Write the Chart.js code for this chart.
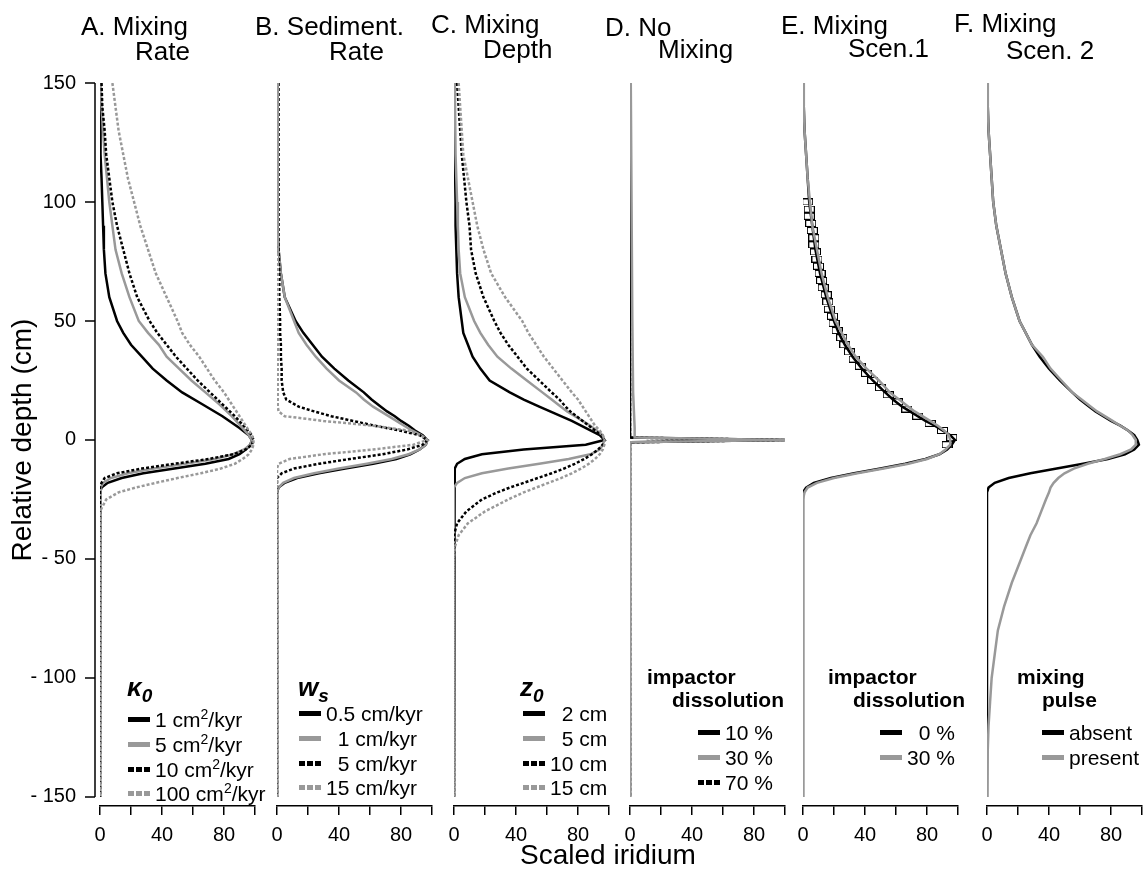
<!DOCTYPE html>
<html>
<head>
<meta charset="utf-8">
<script src="https://cdn.jsdelivr.net/npm/chart.js@4.4.1/dist/chart.umd.min.js"></script>
<style>
    body { margin: 0; width: 1144px; height: 871px; overflow: hidden; background: #fff; position: relative;
           font-family: "Liberation Sans", Arial, sans-serif; color: #000; }
    canvas { position: absolute; top: 0; }
    .t { position: absolute; font-size: 26px; line-height: 26px; white-space: pre; }
    .lg { position: absolute; font-size: 21px; line-height: 24px; white-space: pre; }
    .hd { position: absolute; font-size: 21px; line-height: 24px; font-weight: bold; white-space: pre; }
    .sym { position: absolute; font-size: 26px; line-height: 26px; font-weight: bold; font-style: italic; }
    .sym sub { font-size: 19px; vertical-align: -6px; }
    .sw { display: inline-block; width: 22px; height: 5px; vertical-align: middle; margin-right: 5px; position: relative; top: -2px; }
    .k { background: #000; }
    .g { background: #999; }
    .kd { background: repeating-linear-gradient(90deg, #000 0 6px, transparent 6px 8px); }
    .gd { background: repeating-linear-gradient(90deg, #999 0 6px, transparent 6px 8px); }
    .axt { position: absolute; font-size: 28px; line-height: 30px; white-space: pre; }
</style>
</head>
<body>
<canvas id="panelA" width="275" height="871" style="left:0px"></canvas>
<canvas id="panelB" width="195" height="871" style="left:257px"></canvas>
<canvas id="panelC" width="195" height="871" style="left:434px"></canvas>
<canvas id="panelD" width="195" height="871" style="left:610px"></canvas>
<canvas id="panelE" width="195" height="871" style="left:783px"></canvas>
<canvas id="panelF" width="195" height="871" style="left:967px"></canvas>

<!-- panel titles -->
<div class="t" style="left:81px;top:13px">A. Mixing</div>
<div class="t" style="left:135px;top:38px">Rate</div>
<div class="t" style="left:255px;top:13px">B. Sediment.</div>
<div class="t" style="left:329px;top:38px">Rate</div>
<div class="t" style="left:431px;top:11px">C. Mixing</div>
<div class="t" style="left:483px;top:36px">Depth</div>
<div class="t" style="left:605px;top:14px">D. No</div>
<div class="t" style="left:658px;top:36px">Mixing</div>
<div class="t" style="left:781px;top:12px">E. Mixing</div>
<div class="t" style="left:848px;top:35px">Scen.1</div>
<div class="t" style="left:954px;top:10px">F. Mixing</div>
<div class="t" style="left:1006px;top:37px">Scen. 2</div>

<!-- axis titles -->
<div class="axt" style="left:-108px;top:425px;width:260px;text-align:center;transform:rotate(-90deg)">Relative depth (cm)</div>
<div class="axt" style="left:478px;top:840px;width:260px;text-align:center">Scaled iridium</div>

<!-- legends -->
<div class="sym" style="left:127px;top:674px">κ<sub>0</sub></div>
<div class="lg" style="left:128px;top:702px"><span class="sw k"></span>1 cm<sup style="font-size:14px">2</sup>/kyr</div>
<div class="lg" style="left:128px;top:727px"><span class="sw g"></span>5 cm<sup style="font-size:14px">2</sup>/kyr</div>
<div class="lg" style="left:128px;top:752px"><span class="sw kd"></span>10 cm<sup style="font-size:14px">2</sup>/kyr</div>
<div class="lg" style="left:128px;top:776px"><span class="sw gd"></span>100 cm<sup style="font-size:14px">2</sup>/kyr</div>

<div class="sym" style="left:298px;top:674px">w<sub>s</sub></div>
<div class="lg" style="left:299px;top:702px"><span class="sw k"></span>0.5 cm/kyr</div>
<div class="lg" style="left:299px;top:727px"><span class="sw g"></span>  1 cm/kyr</div>
<div class="lg" style="left:299px;top:752px"><span class="sw kd"></span>  5 cm/kyr</div>
<div class="lg" style="left:299px;top:776px"><span class="sw gd"></span>15 cm/kyr</div>

<div class="sym" style="left:520px;top:674px">z<sub>0</sub></div>
<div class="lg" style="left:523px;top:702px"><span class="sw k"></span>  2 cm</div>
<div class="lg" style="left:523px;top:727px"><span class="sw g"></span>  5 cm</div>
<div class="lg" style="left:523px;top:752px"><span class="sw kd"></span>10 cm</div>
<div class="lg" style="left:523px;top:776px"><span class="sw gd"></span>15 cm</div>

<div class="hd" style="left:647px;top:665px">impactor</div>
<div class="hd" style="left:672px;top:688px">dissolution</div>
<div class="lg" style="left:698px;top:721px"><span class="sw k"></span>10 %</div>
<div class="lg" style="left:698px;top:746px"><span class="sw g"></span>30 %</div>
<div class="lg" style="left:698px;top:771px"><span class="sw kd"></span>70 %</div>

<div class="hd" style="left:828px;top:665px">impactor</div>
<div class="hd" style="left:853px;top:688px">dissolution</div>
<div class="lg" style="left:880px;top:721px"><span class="sw k"></span>  0 %</div>
<div class="lg" style="left:880px;top:746px"><span class="sw g"></span>30 %</div>

<div class="hd" style="left:1017px;top:665px">mixing</div>
<div class="hd" style="left:1042px;top:688px">pulse</div>
<div class="lg" style="left:1042px;top:721px"><span class="sw k"></span>absent</div>
<div class="lg" style="left:1042px;top:746px"><span class="sw g"></span>present</div>

<script>
// axis ticks
const xTicks = [0, 20, 40, 60, 80, 100];
const xTickLabels = [0, 40, 80];
const yTicks = [150, 100, 50, 0, -50, -100, -150];

// A. mixing rate (K0)
const depthA = [150, 140, 130, 120, 110, 100, 90, 80, 70, 60, 50, 45, 40, 35, 30, 25, 20, 15, 10, 5,
                2, 0, -2, -4, -6, -8, -10, -12, -14, -16, -18, -20, -22, -25, -30, -150];
const aK1   = [0, 0, 0.5, 0.5, 1, 1.5, 2, 2.5, 3.5, 6, 11, 15, 20, 27, 34, 43, 53, 66, 79, 90,
               96, 98, 97, 94, 90, 83, 68, 48, 28, 14, 5, 1, 0, 0, 0, 0];
const aK5   = [0.5, 1, 2, 3, 4.5, 6, 8, 10, 14, 19, 25, 31, 38, 43, 51, 59, 68, 77, 85, 92,
               96, 98, 97, 93, 86, 74, 55, 35, 18, 7, 2, 0.5, 0, 0, 0, 0];
const aK10  = [1, 1.5, 3, 4, 6, 8, 11, 15, 19, 24, 32, 37, 43, 49, 56, 63, 71, 79, 87, 94,
               98, 99, 98, 94, 86, 70, 48, 27, 11, 3, 1, 0, 0, 0, 0, 0];
const aK100 = [8, 10, 12, 15, 18, 22, 26, 31, 36, 43, 50, 53, 58, 64, 69, 74, 80, 85, 90, 95,
               98, 99, 99, 98, 96, 92, 87, 78, 65, 50, 36, 23, 12, 4, 0, 0];

// B. sedimentation rate (ws) and C. mixing depth (z0)
const depthBC = [150, 120, 100, 90, 80, 70, 60, 50, 45, 40, 35, 30, 25, 20, 17, 14, 12, 10, 8, 6,
                 4, 2, 0, -2, -4, -6, -8, -10, -12, -14, -16, -18, -20, -22, -25, -30, -35, -40, -45, -50, -150];
const bW05 = [0, 0, 0, 0.5, 1, 2.5, 5, 12, 17, 23, 29, 37, 46, 56, 61, 67, 71, 76, 80, 85,
              89, 94, 97, 96, 92, 86, 77, 62, 44, 27, 13, 5, 1, 0, 0, 0, 0, 0, 0, 0, 0];
const bW1  = [0, 0, 0, 0.5, 1, 2.5, 5, 11, 14, 19, 25, 32, 40, 51, 56, 62, 67, 72, 77, 82,
              87, 93, 97, 96, 92, 85, 74, 58, 40, 24, 11, 4, 1, 0, 0, 0, 0, 0, 0, 0, 0];
const bW5  = [1, 1, 1, 1, 1, 1.5, 1.5, 2, 2, 2.5, 2.5, 3, 3, 4, 6, 14, 24, 35, 49, 63,
              79, 92, 97, 94, 84, 68, 47, 27, 11, 3, 0, 0, 0, 0, 0, 0, 0, 0, 0, 0, 0];
const bW15 = [0.5, 0.5, 0.5, 0.5, 0.5, 0.5, 0.5, 0.5, 0.5, 0.5, 0.5, 0.5, 0.5, 0.5, 0.5, 0.5, 1, 5, 30, 62,
              84, 93, 97, 88, 62, 30, 8, 1, 0, 0, 0, 0, 0, 0, 0, 0, 0, 0, 0, 0, 0];
const cZ2  = [0, 0.5, 1, 1, 1.5, 2, 3, 5, 6, 9, 12, 17, 23, 36, 45, 55, 62, 69, 76, 82,
              88, 94, 97, 85, 45, 18, 7, 2, 0.5, 0, 0, 0, 0, 0, 0, 0, 0, 0, 0, 0, 0];
const cZ5  = [0.5, 1, 2, 2.5, 3, 4, 7, 13, 17, 22, 28, 37, 47, 57, 63, 69, 73, 78, 83, 88,
              92, 96, 97, 96, 94, 88, 74, 55, 35, 18, 7, 2, 0, 0, 0, 0, 0, 0, 0, 0, 0];
const cZ10 = [2, 5, 8, 10, 11, 14, 19, 26, 30, 35, 41, 47, 55, 63, 68, 72, 75, 79, 83, 87,
              91, 95, 97, 96, 93, 89, 84, 78, 71, 63, 54, 45, 36, 28, 18, 8, 2, 0, 0, 0, 0];
const cZ15 = [3, 6, 12, 15, 19, 24, 33, 44, 48, 53, 58, 64, 70, 76, 80, 83, 85, 87, 89, 91,
              94, 96, 97, 97, 96, 94, 91, 87, 82, 76, 69, 61, 53, 45, 35, 20, 9, 3, 0.5, 0, 0];

// D. no mixing
const depthD = [150, 100, 50, 20, 5, 2, 1, 0, -1, -150];
const dNo10 = [0, 0, 0, 0, 0, 0, 0, 100, 0, 0];
const dNo30 = [0.5, 1, 1.5, 2, 3, 3, 3, 100, 0, 0];
const dNo70 = [0, 0, 0, 0, 0, 0, 0, 100, 0, 0];

// E. / F. mixing scenarios
const depthEF = [150, 140, 130, 120, 110, 100, 90, 80, 70, 60, 50, 45, 40, 35, 30, 25, 20, 17, 14, 12,
                 10, 8, 6, 4, 2, 0, -2, -4, -6, -8, -10, -12, -14, -16, -18, -20, -22, -25, -30, -35,
                 -40, -45, -50, -60, -70, -80, -90, -100, -110, -120, -130, -140, -150];
const eDiss0  = [0, 0.5, 1, 2, 3, 4, 6, 8, 11, 15, 20, 23, 27, 32, 38, 45, 53, 58, 64, 69,
                 74, 79, 85, 90, 95, 98, 96, 93, 88, 79, 66, 50, 33, 18, 7, 2, 0, 0, 0, 0,
                 0, 0, 0, 0, 0, 0, 0, 0, 0, 0, 0, 0, 0];
const eDiss30 = [0, 0.5, 1, 2, 3, 4.5, 6, 9, 12, 16, 21, 25, 29, 34, 41, 49, 56, 62, 68, 72,
                 77, 82, 87, 91, 94, 95, 95, 92, 88, 80, 68, 52, 35, 20, 9, 3, 1, 0, 0, 0,
                 0, 0, 0, 0, 0, 0, 0, 0, 0, 0, 0, 0, 0];
const fAbsent  = [0, 0.5, 1, 2, 3, 4, 6, 9, 12, 16, 21, 25, 29, 34, 40, 47, 55, 60, 66, 70,
                  75, 80, 86, 91, 95, 97, 98, 95, 89, 78, 62, 45, 28, 14, 5, 1, 0, 0, 0, 0,
                  0, 0, 0, 0, 0, 0, 0, 0, 0, 0, 0, 0, 0];
const fPresent = [0, 0.5, 1, 2, 3, 4, 6, 9, 12, 16, 21, 25, 29, 36, 41, 48, 55, 61, 67, 71,
                  76, 81, 86, 91, 94, 96, 96, 93, 86, 76, 65, 56, 50, 46, 43, 41, 40, 38, 35, 32,
                  28, 25, 22, 16, 11, 7, 5, 3, 2, 1, 0.5, 0.3, 0];
// measured samples in E (open boxes)
const eBoxDepth = [100, 97, 94, 91, 88, 85, 82, 79, 76, 73, 70, 67, 64, 61, 58, 55, 52, 49, 46, 43,
                   40, 37, 34, 31, 28, 25, 22, 19, 16, 13, 10, 7, 4, 1, -2];
const eBoxValue = [3, 4, 4, 5, 6, 7, 7, 8, 9, 10, 11, 12, 13, 15, 16, 17, 19, 20, 22, 25,
                   27, 30, 33, 37, 41, 45, 50, 55, 61, 67, 74, 82, 90, 96, 93];

const BLACK = '#000000';
const GREY = '#999999';
const DOTS = [3, 2];
// bottom of the plotting box sits a little below -150 (detached x axis)
const Y_MIN = -153.8;

function pts(depths, vals) {
    return depths.map((d, i) => ({ x: vals[i], y: d }));
}

function curve(depths, vals, color, dotted) {
    return {
        data: pts(depths, vals),
        showLine: true,
        borderColor: color,
        borderWidth: 2.5,
        borderDash: dotted ? DOTS : [],
        pointRadius: 0,
        fill: false
    };
}

// y axis of panel A drawn a few px left of the x = 0 line
const yAxisLine = {
    id: 'yAxisLine',
    afterDraw(chart) {
        const ctx = chart.ctx;
        const ys = chart.scales.y;
        const x = chart.chartArea.left - 5;
        ctx.save();
        ctx.strokeStyle = BLACK;
        ctx.lineWidth = 1.5;
        ctx.beginPath();
        ctx.moveTo(x, ys.getPixelForValue(150));
        ctx.lineTo(x, ys.getPixelForValue(-150));
        yTicks.forEach(v => {
            const p = ys.getPixelForValue(v);
            ctx.moveTo(x - 10, p);
            ctx.lineTo(x, p);
        });
        ctx.stroke();
        ctx.restore();
    }
};

function makePanel(id, datasets, showY) {
    const font = { family: '"Liberation Sans", Arial, sans-serif', size: 20 };
    return new Chart(document.getElementById(id), {
        type: 'scatter',
        data: { datasets },
        options: {
            responsive: false,
            animation: false,
            devicePixelRatio: 1,
            layout: { padding: { top: 83, bottom: 0, left: showY ? 0 : 20, right: 20 } },
            plugins: { legend: { display: false }, tooltip: { enabled: false } },
            scales: {
                x: {
                    type: 'linear', min: 0, max: 100,
                    afterBuildTicks: s => { s.ticks = xTicks.map(v => ({ value: v })); },
                    afterFit: s => { s.height = 65; },
                    grid: { drawOnChartArea: false, drawTicks: true, tickLength: 9, color: BLACK, lineWidth: 1.5 },
                    border: { display: true, color: BLACK, width: 1.5 },
                    ticks: {
                        autoSkip: false, maxRotation: 0, padding: 8, color: BLACK, font,
                        callback: v => xTickLabels.includes(v) ? String(v) : ''
                    }
                },
                y: {
                    type: 'linear', min: Y_MIN, max: 150, display: showY,
                    afterBuildTicks: s => { s.ticks = yTicks.map(v => ({ value: v })); },
                    afterFit: s => { s.width = showY ? 100 : 0; },
                    grid: { display: false, drawTicks: false },
                    border: { display: false },
                    ticks: {
                        padding: 24, color: BLACK, font,
                        callback: v => v < 0 ? '- ' + Math.abs(v) : String(v)
                    }
                }
            }
        },
        plugins: showY ? [yAxisLine] : []
    });
}

// little open rectangle used for the sample boxes in panel E
function boxImage() {
    const c = document.createElement('canvas');
    c.width = 11; c.height = 7;
    const g = c.getContext('2d');
    g.strokeStyle = BLACK;
    g.lineWidth = 1;
    g.strokeRect(0.5, 0.5, 10, 6);
    return c;
}

document.addEventListener('DOMContentLoaded', function() {
    makePanel('panelA', [
        curve(depthA, aK100, GREY, true),
        curve(depthA, aK10, BLACK, true),
        curve(depthA, aK5, GREY, false),
        curve(depthA, aK1, BLACK, false)
    ], true);

    makePanel('panelB', [
        curve(depthBC, bW15, GREY, true),
        curve(depthBC, bW5, BLACK, true),
        curve(depthBC, bW1, GREY, false),
        curve(depthBC, bW05, BLACK, false)
    ], false);

    makePanel('panelC', [
        curve(depthBC, cZ15, GREY, true),
        curve(depthBC, cZ10, BLACK, true),
        curve(depthBC, cZ5, GREY, false),
        curve(depthBC, cZ2, BLACK, false)
    ], false);

    makePanel('panelD', [
        curve(depthD, dNo30, GREY, false),
        curve(depthD, dNo10, BLACK, false),
        curve(depthD, dNo70, BLACK, true)
    ], false);

    makePanel('panelE', [
        curve(depthEF, eDiss30, GREY, false),
        curve(depthEF, eDiss0, BLACK, false),
        {
            data: pts(eBoxDepth, eBoxValue),
            showLine: false,
            pointStyle: boxImage(),
            pointRadius: 4
        }
    ], false);

    makePanel('panelF', [
        curve(depthEF, fPresent, GREY, false),
        curve(depthEF, fAbsent, BLACK, false)
    ], false);
});
</script>
</body>
</html>
